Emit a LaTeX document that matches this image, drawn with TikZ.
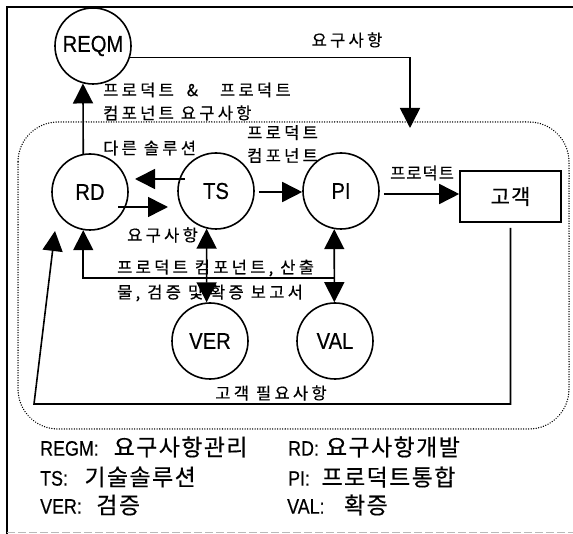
\documentclass[tikz,border=0pt]{standalone}
\usepackage{fontspec}
\setmainfont{Noto Sans CJK KR}[FakeBold=0.4,LetterSpace=20]
\newfontfamily\legkr{Noto Sans CJK KR}[FakeBold=0.4,LetterSpace=6]
\newfontfamily\lat[FakeStretch=0.88,FakeBold=0.4]{Liberation Sans}
\newfontfamily\latleg[FakeStretch=0.85,FakeBold=0.4]{Liberation Sans}
\usetikzlibrary{arrows.meta,calc}
\newcommand\legtext[3]{{\latleg\fontsize{21}{24}\selectfont #1}\hspace{#2}#3}
\begin{document}
\begin{tikzpicture}[x=1pt,y=-1pt,
  circ/.style={circle,draw,line width=1.6pt,minimum size=76pt,inner sep=0pt,font=\lat\fontsize{23}{26}\selectfont},
  arr/.style={line width=1.6pt,-{Triangle[length=20pt,width=20pt]}},
  darr/.style={line width=1.6pt,{Triangle[length=20pt,width=20pt]}-{Triangle[length=20pt,width=20pt]}},
  lbl/.style={inner sep=0pt,font=\fontsize{16.5}{23}\selectfont},
  leg/.style={inner sep=0pt,anchor=west,font=\legkr\fontsize{23}{26}\selectfont},
  dotbox/.style={line width=1.5pt,dash pattern=on 0.01pt off 2.5pt,line cap=round,rounded corners=40pt},
]
\useasboundingbox (0,0) rectangle (573,534);
% frame
\draw[line width=2pt] (7,534) -- (7,7) -- (573,7);
\draw[line width=1pt,gray!55,dash pattern=on 8pt off 3pt] (7,532) -- (573,532);
% dotted boundary
\draw[dotbox] (18,122) rectangle (569,429);
% nodes
\node[circ] (REQM) at (93,46) {REQM};
\node[circ] (RD) at (90,192) {RD};
\node[circ] (TS) at (216,191) {TS};
\node[circ] (PI) at (341,191) {PI};
\node[circ] (VER) at (210,341) {VER};
\node[circ] (VAL) at (335,341) {VAL};
\node[draw,line width=1.6pt,minimum width=101pt,minimum height=51pt,inner sep=0pt,font=\legkr\fontsize{21}{24}\selectfont] (C) at (510.5,196.5) {고객};
% REQM -> boundary
\coordinate (reqin) at (410,128);
\draw[arr] (REQM.-17) -- (reqin |- REQM.-17) -- (reqin);
\node[lbl] at (347,40) {요구사항};
% RD -> REQM
\draw[arr] (RD.100) -- (REQM.255);
\node[lbl,anchor=west,align=left] at (103,101.5) {프로덕트\hspace{13pt}\&\hspace{22pt}프로덕트\\컴포넌트 요구사항};
% RD <-> TS
\draw[arr] ($(TS.center)+(-31,-12)$) -- ($(RD.center)+(45,-13)$);
\draw[arr] ($(RD.center)+(28,15)$) -- ($(TS.center)+(-48,16)$);
\node[lbl,anchor=west] at (103,148) {다른 솔루션};
\node[lbl,anchor=west] at (127,235) {요구사항};
% TS -> PI
\draw[arr] ($(TS.east)+(4,1)$) -- ($(PI.west)+(0,1)$);
\node[lbl,anchor=west,align=left] at (247,144) {프로덕트\\컴포넌트};
% PI -> customer
\draw[arr] ($(PI.east)+(4,3)$) -- ($(C.west)+(0,-2.5)$);
\node[lbl,anchor=west,font=\legkr\fontsize{16.5}{23}\selectfont] at (390,173) {프로덕트};
% verification / validation
\draw[darr] (TS.256) -- (VER.95);
\draw[darr] (PI.260) -- (VAL.91);
\coordinate (J) at (PI.260 |- 0,278);
\draw[arr] (J) -- (RD.260 |- J) -- (RD.260);
\node[lbl,anchor=west,align=left,font=\fontsize{16.5}{25}\selectfont] at (117,280.5) {프로덕트 컴포넌트, 산출\\물, 검증 및 확증 보고서};
% customer needs feedback
\coordinate (fbl) at (34,404);
\coordinate (fbtip) at (55,231);
\draw[arr] ($(C.south)+(0,5)$) -- (C.south |- fbl) -- (fbl) -- (fbtip);
\node[lbl] at (271,393) {고객 필요사항};
% legend
\node[leg] at (40,447) {\legtext{REGM:}{15pt}{요구사항관리}};
\node[leg] at (40,477) {\legtext{TS:}{16.5pt}{기술솔루션}};
\node[leg] at (40,505) {\legtext{VER:}{14.5pt}{검증}};
\node[leg] at (288,447) {\legtext{RD:}{7pt}{요구사항개발}};
\node[leg] at (288,477) {\legtext{PI:}{11.5pt}{프로덕트통합}};
\node[leg] at (287,505) {\legtext{VAL:}{19.5pt}{확증}};
\end{tikzpicture}
\end{document}
